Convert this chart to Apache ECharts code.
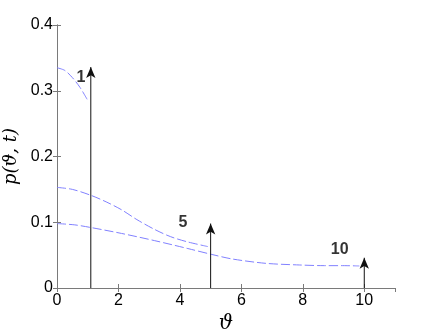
<!DOCTYPE html>
<html>
<head>
<meta charset="utf-8">
<script src="https://cdn.jsdelivr.net/npm/echarts@6/dist/echarts.min.js"></script>
<style>
  html, body { margin: 0; padding: 0; background: #fff; }
  #chart { width: 436px; height: 329px; }
</style>
</head>
<body>
<div id="chart"></div>
<script>
// curves
var t1X = [0, 0.25, 0.5, 0.75, 0.98];
var t1Y = [0.335, 0.331, 0.320, 0.305, 0.287];
var t5X = [0, 0.5, 1.1, 1.6, 2.1, 2.6, 3.18, 3.7, 4.26, 4.91];
var t5Y = [0.153, 0.150, 0.141, 0.131, 0.119, 0.104, 0.089, 0.078, 0.070, 0.063];
var t10X = [0, 0.58, 1.1, 2.1, 3.18, 4.26, 5.04, 5.72, 6.8, 7.9, 8.7, 9.3, 9.84];
var t10Y = [0.098, 0.096, 0.092, 0.083, 0.072, 0.060, 0.051, 0.044, 0.0375, 0.035, 0.034, 0.034, 0.0335];

// arrows (position, height) and their labels
var arrowX = [1.1, 5, 10];
var arrowTop = [0.336, 0.098, 0.046];
var labelText = ['1', '5', '10'];
var labelX = [0.78, 4.1, 9.2];
var labelY = [0.320, 0.099, 0.058];

function pairs(xs, ys) {
    var out = [];
    for (var i = 0; i < xs.length; i++) {
        out.push([xs[i], ys[i]]);
    }
    return out;
}

var curveStyle = {
    color: '#8080ff',
    width: 1,
    type: [9, 3]
};

var series = [];
[[t1X, t1Y], [t5X, t5Y], [t10X, t10Y]].forEach(function (c) {
    series.push({
        type: 'line',
        smooth: 0.3,
        symbol: 'none',
        silent: true,
        lineStyle: curveStyle,
        data: pairs(c[0], c[1])
    });
});

for (var i = 0; i < arrowX.length; i++) {
    series.push({
        type: 'line',
        silent: true,
        lineStyle: { color: '#111', width: 1 },
        itemStyle: { color: '#111' },
        data: [
            { value: [arrowX[i], 0], symbol: 'none' },
            { value: [arrowX[i], arrowTop[i]], symbol: 'arrow', symbolSize: [7, 11] }
        ]
    });
}

series.push({
    type: 'scatter',
    symbolSize: 0,
    silent: true,
    label: {
        show: true,
        position: 'inside',
        color: '#000',
        fontFamily: 'Liberation Sans',
        fontWeight: 'bold',
        fontSize: 16,
        formatter: function (p) { return labelText[p.dataIndex]; }
    },
    data: pairs(labelX, labelY)
});

var axisLine = { lineStyle: { color: '#7a7a7a', width: 1 } };
var tickFont = { color: '#000', fontFamily: 'Liberation Sans', fontSize: 16 };

var option = {
    animation: false,
    grid: { left: 57, right: 41, top: 25, bottom: 41, outerBoundsMode: 'none', containLabel: false },
    xAxis: [{
        type: 'value',
        min: 0,
        max: 11,
        interval: 2,
        axisLine: axisLine,
        axisTick: { inside: true, length: 4, lineStyle: { color: '#7a7a7a' } },
        axisLabel: Object.assign({ margin: 5, showMaxLabel: false }, tickFont),
        splitLine: { show: false },
        name: 'ϑ',
        nameLocation: 'middle',
        nameGap: 25,
        nameTextStyle: { fontFamily: 'DejaVu Serif', fontStyle: 'italic', fontSize: 20, color: '#000' }
    }, {
        type: 'value',
        position: 'top',
        min: 0,
        max: 11,
        interval: 2,
        axisLine: axisLine,
        axisTick: { inside: true, length: 4, lineStyle: { color: '#7a7a7a' } },
        axisLabel: { show: false },
        splitLine: { show: false }
    }],
    yAxis: [{
        type: 'value',
        min: 0,
        max: 0.4,
        interval: 0.1,
        axisLine: Object.assign({ show: true }, axisLine),
        axisTick: { show: true, inside: true, length: 4, lineStyle: { color: '#7a7a7a' } },
        axisLabel: Object.assign({ margin: 4 }, tickFont),
        splitLine: { show: false },
        name: 'p(ϑ, t)',
        nameLocation: 'middle',
        nameGap: 36,
        nameTextStyle: { fontFamily: 'DejaVu Serif', fontStyle: 'italic', fontSize: 18, color: '#000' }
    }, {
        type: 'value',
        position: 'right',
        min: 0,
        max: 0.4,
        interval: 0.1,
        axisLine: Object.assign({ show: true }, axisLine),
        axisTick: { show: true, inside: true, length: 4, lineStyle: { color: '#7a7a7a' } },
        axisLabel: { show: false },
        splitLine: { show: false }
    }],
    series: series
};

var myChart = echarts.init(document.getElementById('chart'));
myChart.setOption(option);
</script>
</body>
</html>
